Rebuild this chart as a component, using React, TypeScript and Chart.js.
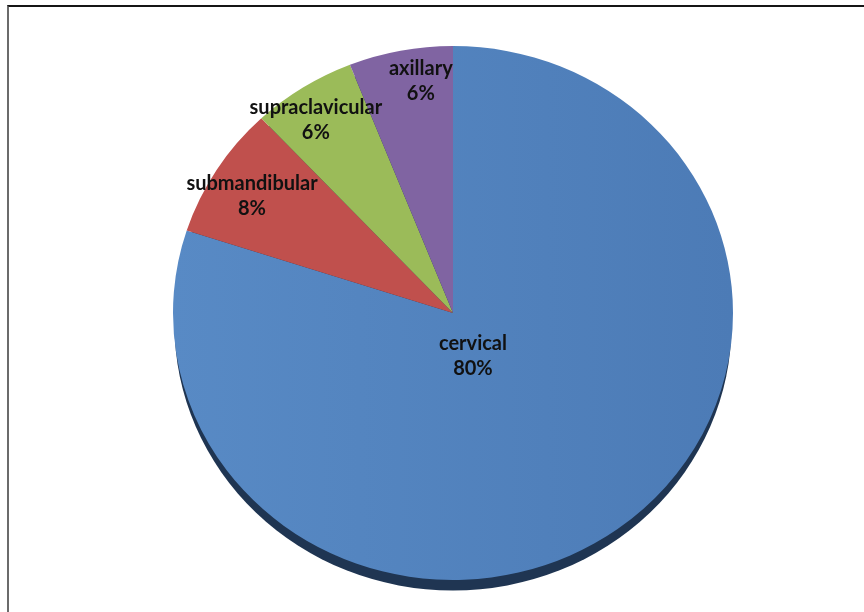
import React, { useEffect, useRef } from "react";
import { Chart, registerables } from "chart.js";

Chart.register(...registerables);

const categories = ["cervical", "submandibular", "supraclavicular", "axillary"];
const percentValues = [80, 8, 6, 6];
const percentLabels = ["80%", "8%", "6%", "6%"];

const sliceColors = ["#4F81BD", "#C0504D", "#9BBB59", "#8064A2"];
const labelRadialFraction = [0.176, 0.841, 0.876, 0.88];
const labelAngleShiftDeg = [12.1, -1.0, -1.6, 3.3];
const Y_SCALE = 267 / 280;
const RIM_OFFSET = 12.5;

const ellipsePlugin = {
  id: "ellipsePie",
  beforeDatasetsDraw(chart: any) {
    const meta = chart.getDatasetMeta(0);
    const arc = meta.data[0];
    if (!arc) return;
    const { x, y, outerRadius } = arc;
    const ctx = chart.ctx;
    ctx.save();
    ctx.translate(x, y);
    ctx.scale(1, Y_SCALE);
    ctx.translate(-x, -y);
    // 3D-style dark rim below the pie
    ctx.beginPath();
    ctx.arc(x, y + RIM_OFFSET, outerRadius - 1.5, 0, Math.PI * 2);
    ctx.fillStyle = "#1F3552";
    ctx.fill();
  },
  afterDatasetsDraw(chart: any) {
    const ctx = chart.ctx;
    ctx.restore();
    const meta = chart.getDatasetMeta(0);
    ctx.save();
    ctx.font = "bold 20px Lato, 'Open Sans', sans-serif";
    ctx.fillStyle = "#111111";
    ctx.textAlign = "center";
    ctx.textBaseline = "middle";
    meta.data.forEach((arc: any, i: number) => {
      const mid = (arc.startAngle + arc.endAngle) / 2 + (labelAngleShiftDeg[i] * Math.PI) / 180;
      const r = arc.outerRadius * labelRadialFraction[i];
      const lx = arc.x + Math.cos(mid) * r;
      const ly = arc.y + Math.sin(mid) * r * Y_SCALE;
      ctx.fillText(categories[i], lx, ly - 12);
      ctx.fillText(percentLabels[i], lx, ly + 13);
    });
    ctx.restore();
  },
};

function sliceFill(context: any) {
  const i = context.dataIndex;
  const base = sliceColors[i];
  const chart = context.chart;
  const area = chart.chartArea;
  if (!area || i !== 0) return base;
  const g = chart.ctx.createLinearGradient(173, 0, 733, 0);
  g.addColorStop(0, "#588AC5");
  g.addColorStop(1, "#4C7BB6");
  return g;
}

export default function App() {
  const canvasRef = useRef<HTMLCanvasElement | null>(null);

  useEffect(() => {
    if (!canvasRef.current) return;
    const chart = new Chart(canvasRef.current, {
      type: "pie",
      data: {
        labels: categories,
        datasets: [
          {
            data: percentValues,
            backgroundColor: sliceFill,
            borderWidth: 0,
            radius: 280,
          } as any,
        ],
      },
      options: {
        animation: false,
        responsive: false,
        maintainAspectRatio: false,
        layout: { padding: { left: 42, right: 0, top: 14, bottom: 0 } },
        plugins: {
          legend: { display: false },
          tooltip: { enabled: false },
        },
      },
      plugins: [ellipsePlugin],
    });
    return () => chart.destroy();
  }, []);

  return (
    <div style={{ position: "fixed", left: 0, top: 0, width: 864, height: 612, background: "#fff" }}>
      <div
        style={{
          position: "absolute",
          left: 7,
          top: 5,
          right: 0,
          bottom: 0,
          borderLeft: "2px solid #6b6b6b",
          borderTop: "2px solid #151515",
        }}
      />
      <canvas ref={canvasRef} width={864} height={612} style={{ position: "absolute", left: 0, top: 0 }} />
    </div>
  );
}
